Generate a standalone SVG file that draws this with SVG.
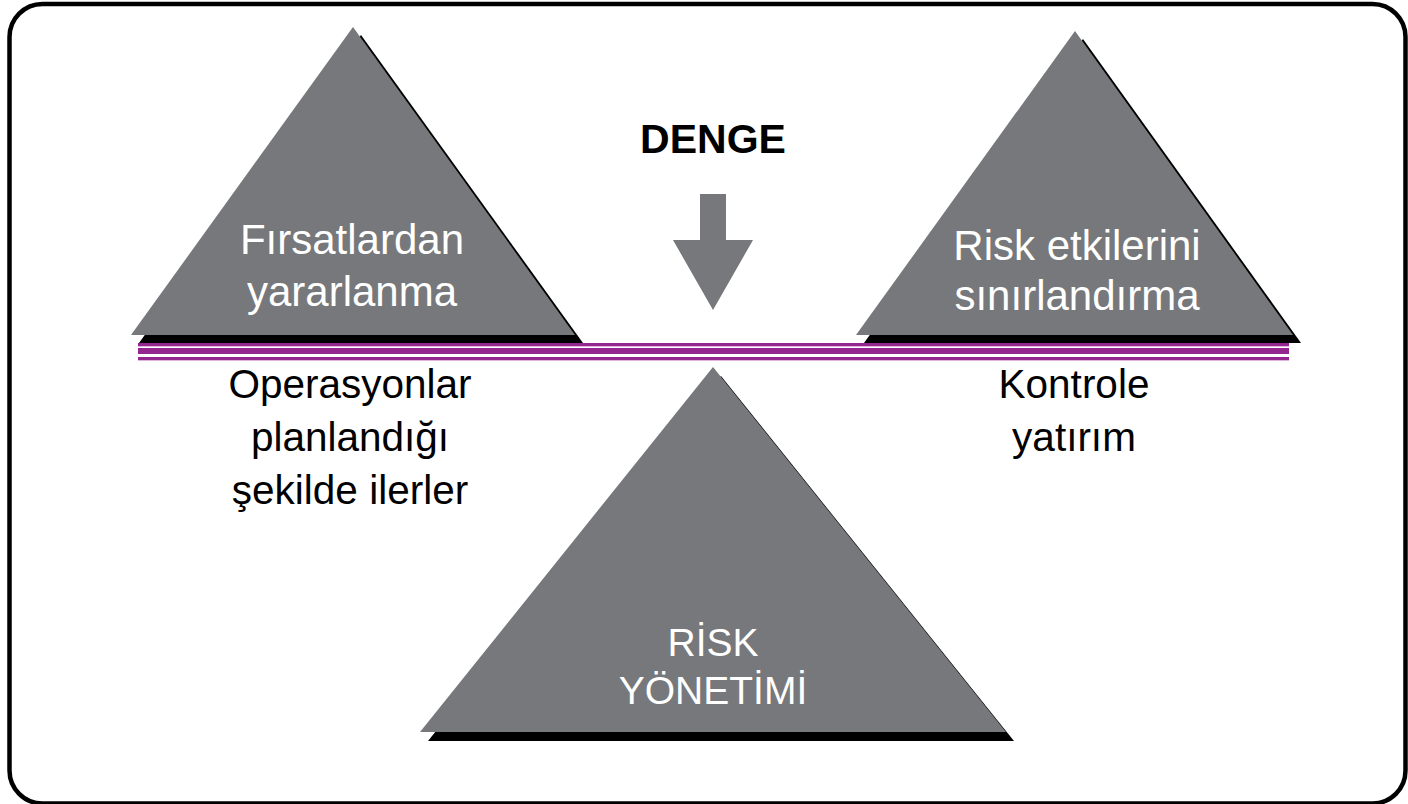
<svg xmlns="http://www.w3.org/2000/svg" width="1408" height="804" viewBox="0 0 1408 804">
  <style>
    .tri { fill: #77787b; }
    .shadow { fill: #000000; }
    .bar { fill: #93278f; }
    .fringe { fill: #e3b4df; }
    .inner { font-family: "Liberation Sans", Arial, sans-serif; font-size: 42px; fill: #ffffff; text-anchor: middle; }
    .base { font-size: 39px; }
    .outer { font-family: "Liberation Sans", Arial, sans-serif; font-size: 40.5px; fill: #000000; text-anchor: middle; }
    .title { font-family: "Liberation Sans", Arial, sans-serif; font-size: 41px; font-weight: bold; fill: #000000; text-anchor: middle; }
  </style>

  <!-- frame -->
  <rect x="9.5" y="4" width="1396" height="799.5" rx="33" ry="33" fill="#ffffff" stroke="#000000" stroke-width="4.5"/>

  <!-- upper-left pyramid -->
  <g id="node-firsatlar">
    <polygon class="shadow" points="361,35 139,343 583,343"/>
    <polygon class="tri" points="353,27 131,335 575,335"/>
    <text class="inner" x="352" y="254">Fırsatlardan</text>
    <text class="inner" x="352" y="306">yararlanma</text>
  </g>

  <!-- upper-right pyramid -->
  <g id="node-risk-etkileri">
    <polygon class="shadow" points="1083,39 864,343 1301,343"/>
    <polygon class="tri" points="1075,31 856,335 1293,335"/>
    <text class="inner" x="1077" y="260">Risk etkilerini</text>
    <text class="inner" x="1077" y="310">sınırlandırma</text>
  </g>

  <!-- balance beam -->
  <g id="beam">
    <rect class="bar" x="138" y="343" width="1151" height="3"/>
    <rect class="fringe" x="138" y="346" width="1151" height="1"/>
    <rect class="bar" x="138" y="348" width="1151" height="6"/>
    <rect class="bar" x="138" y="357" width="1151" height="3"/>
    <rect class="fringe" x="138" y="360" width="1151" height="1"/>
  </g>

  <!-- lower pyramid (fulcrum) -->
  <g id="node-risk-yonetimi">
    <polygon class="shadow" points="721,376 428,741 1014,741"/>
    <polygon class="tri" points="713,367 420,732 1006,732"/>
    <text class="inner base" x="713" y="656">RİSK</text>
    <text class="inner base" x="713" y="704">YÖNETİMİ</text>
  </g>

  <!-- balance label and pointer -->
  <g id="node-denge">
    <text class="title" x="713" y="153">DENGE</text>
  </g>
  <g id="connectors">
    <polygon class="tri" points="700,194 726,194 726,240 753,240 713,310 673,240 700,240"/>
  </g>

  <!-- side captions -->
  <g id="label-operasyonlar">
    <text class="outer" x="350" y="398">Operasyonlar</text>
    <text class="outer" x="350" y="451">planlandığı</text>
    <text class="outer" x="350" y="504">şekilde ilerler</text>
  </g>
  <g id="label-kontrol">
    <text class="outer" x="1074" y="398">Kontrole</text>
    <text class="outer" x="1074" y="451">yatırım</text>
  </g>
</svg>
